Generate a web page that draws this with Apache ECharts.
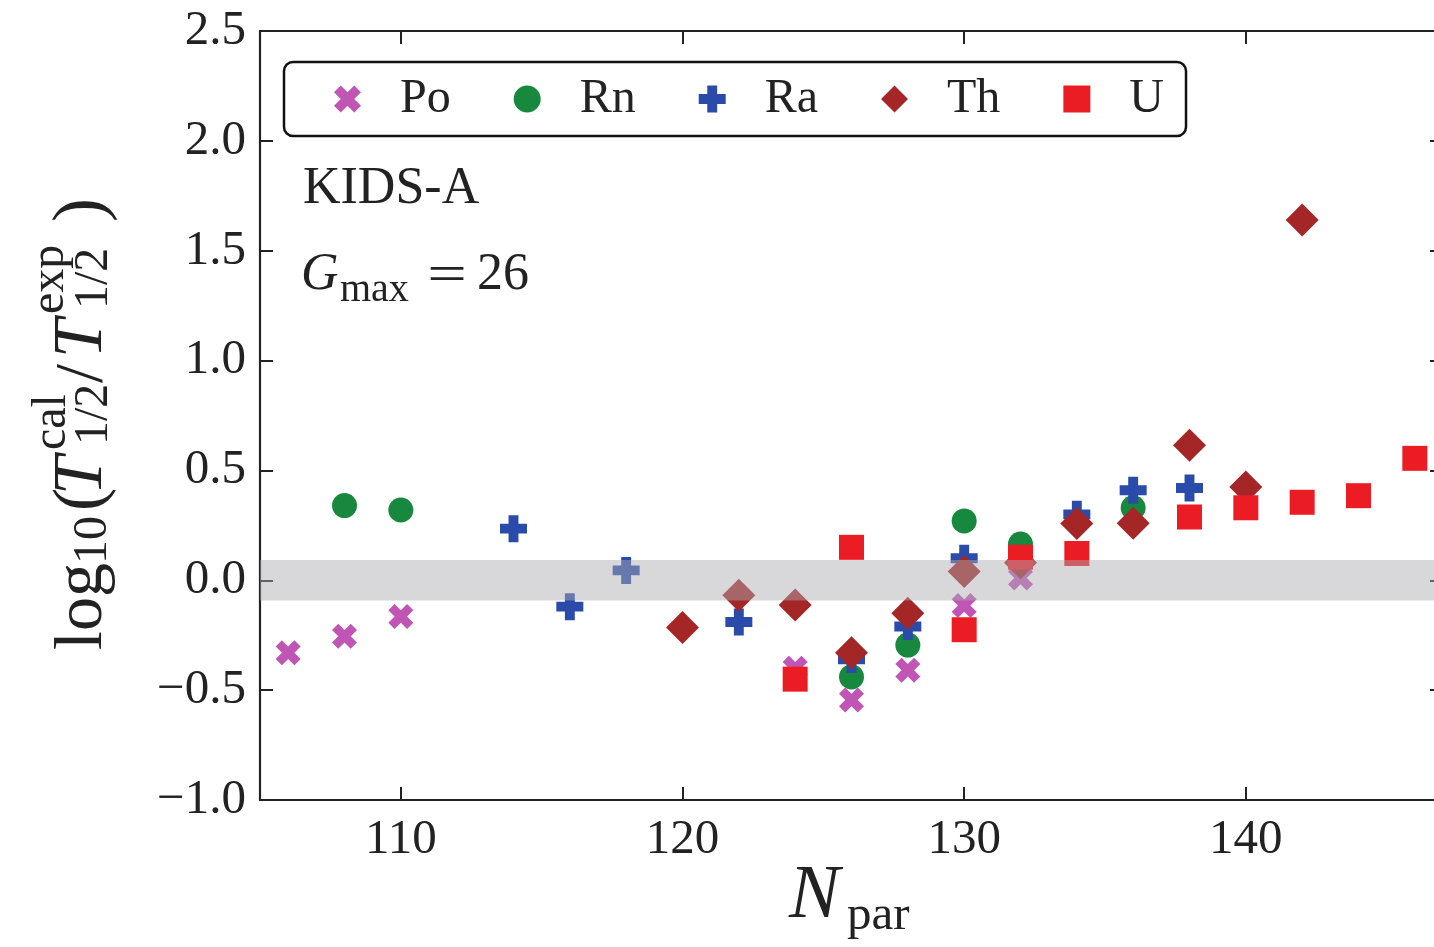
<!DOCTYPE html>
<html>
<head>
<meta charset="utf-8">
<script src="https://cdn.jsdelivr.net/npm/echarts@6/dist/echarts.min.js"></script>
<style>
  html, body { margin: 0; padding: 0; background: #ffffff; overflow: hidden; }
  /* canvas is a little wider than the window so the right frame sits just past the edge */
  #chart { width: 1452px; height: 947px; }
</style>
</head>
<body>
<div id="chart"></div>
<script>
// log10(T_cal / T_exp) versus parent neutron number, one series per element
const elementNames = ['Po', 'Rn', 'Ra', 'Th', 'U'];

const poValues = [[106, -0.33], [108, -0.255], [110, -0.165], [124, -0.40], [126, -0.545], [128, -0.41], [130, -0.115], [132, 0.01]];
const rnValues = [[108, 0.34], [110, 0.32], [126, -0.44], [128, -0.295], [130, 0.27], [132, 0.165], [136, 0.33]];
const raValues = [[114, 0.235], [116, -0.12], [118, 0.045], [122, -0.19], [126, -0.36], [128, -0.21], [130, 0.10], [134, 0.30], [136, 0.41], [138, 0.42]];
const thValues = [[120, -0.215], [122, -0.068], [124, -0.113], [126, -0.33], [128, -0.15], [130, 0.04], [132, 0.08], [134, 0.258], [136, 0.26], [138, 0.615], [140, 0.425], [142, 1.64]];
const uValues = [[124, -0.45], [126, 0.15], [130, -0.225], [132, 0.105], [134, 0.122], [138, 0.288], [140, 0.33], [142, 0.355], [144, 0.385], [146, 0.555]];

const xTickValues = [110, 120, 130, 140];
const xRange = [105, 147];
const yRange = [-1.0, 2.5];
const yStep = 0.5;
const bandLimits = [-0.092, 0.092];

const SERIF = '"Liberation Serif", "DejaVu Serif", serif';
const INK = '#222222';

const elementColors = ['#c055b5', '#17883d', '#2b4baa', '#a52626', '#ec1c24'];
const xSymbol = 'path://M-1,-2L0,-1L1,-2L2,-1L1,0L2,1L1,2L0,1L-1,2L-2,1L-1,0L-2,-1Z';
const plusSymbol = 'path://M-1.1,-3L1.1,-3L1.1,-1.1L3,-1.1L3,1.1L1.1,1.1L1.1,3L-1.1,3L-1.1,1.1L-3,1.1L-3,-1.1L-1.1,-1.1Z';
const diamondSymbol = 'path://M0,-1L1,0L0,1L-1,0Z';
const squareSymbol = 'path://M0,0L1,0L1,1L0,1Z';
const elementSymbols = [xSymbol, 'circle', plusSymbol, diamondSymbol, squareSymbol];
const elementSizes = [25, 25, 27, 33, 25];
const elementData = [poValues, rnValues, raValues, thValues, uValues];

const fmtY = v => (v < 0 ? '\u2212' : '') + Math.abs(v).toFixed(1);

const chart = echarts.init(document.getElementById('chart'), null, { renderer: 'canvas' });

const scatterSeries = elementNames.map((name, i) => ({
  type: 'scatter',
  name: name,
  data: elementData[i],
  symbol: elementSymbols[i],
  symbolSize: elementSizes[i],
  itemStyle: { color: elementColors[i], opacity: 1 },
  z: 2
}));

// translucent band around zero, drawn above the markers
const bandSeries = {
  type: 'custom',
  name: 'band',
  z: 10,
  silent: true,
  data: [[126, bandLimits[0], bandLimits[1]]],
  encode: { x: 0, y: [1, 2] },
  renderItem(params, api) {
    const cs = params.coordSys;
    const yTop = api.coord([api.value(0), api.value(2)])[1];
    const yBot = api.coord([api.value(0), api.value(1)])[1];
    return {
      type: 'rect',
      shape: { x: cs.x, y: yTop, width: cs.width, height: yBot - yTop },
      style: { fill: 'rgba(172,172,177,0.47)' }
    };
  }
};

const labelText = (x, y, text, size, extra) => Object.assign({
  type: 'text', x: x, y: y,
  style: {
    text: text, fill: INK,
    font: size + 'px ' + SERIF,
    verticalAlign: 'middle', align: 'left'
  }
}, extra || {});
const italicText = (x, y, text, size) => ({
  type: 'text', x: x, y: y,
  style: { text: text, fill: INK, font: 'italic ' + size + 'px ' + SERIF, verticalAlign: 'middle', align: 'left' }
});

const option = {
  animation: false,
  backgroundColor: '#ffffff',
  grid: { left: 260, top: 31, right: 9, height: 769, containLabel: false },
  xAxis: [{
    type: 'value', min: xRange[0], max: xRange[1], position: 'bottom',
    axisLine: { show: true, onZero: false, lineStyle: { color: INK, width: 2.2 } },
    axisTick: { show: true, inside: true, length: 13, customValues: xTickValues, lineStyle: { color: INK, width: 2 } },
    axisLabel: { show: true, customValues: xTickValues, margin: 16, color: INK, fontFamily: SERIF, fontSize: 49 },
    splitLine: { show: false }
  }, {
    type: 'value', min: xRange[0], max: xRange[1], position: 'top',
    axisLine: { show: true, onZero: false, lineStyle: { color: INK, width: 2.2 } },
    axisTick: { show: true, inside: true, length: 13, customValues: xTickValues, lineStyle: { color: INK, width: 2 } },
    axisLabel: { show: false },
    splitLine: { show: false }
  }],
  yAxis: [{
    type: 'value', min: yRange[0], max: yRange[1], interval: yStep, position: 'left',
    axisLine: { show: true, onZero: false, lineStyle: { color: INK, width: 2.2 } },
    axisTick: { show: true, inside: true, length: 13, lineStyle: { color: INK, width: 2 } },
    axisLabel: { show: true, margin: 14, color: INK, fontFamily: SERIF, fontSize: 49, formatter: fmtY },
    splitLine: { show: false }
  }, {
    type: 'value', min: yRange[0], max: yRange[1], interval: yStep, position: 'right',
    axisLine: { show: true, onZero: false, lineStyle: { color: INK, width: 2.2 } },
    axisTick: { show: true, inside: true, length: 13, lineStyle: { color: INK, width: 2 } },
    axisLabel: { show: false },
    splitLine: { show: false }
  }],
  legend: {
    data: elementNames,
    left: 284, top: 62,
    orient: 'horizontal',
    selectedMode: false,
    itemWidth: 27, itemHeight: 27, itemGap: 63,
    padding: [13, 22, 13, 50],
    borderColor: '#111111', borderWidth: 2.5, borderRadius: 9,
    backgroundColor: '#ffffff',
    textStyle: { fontFamily: SERIF, fontSize: 48, color: INK, padding: [0, 0, 0, 34] }
  },
  graphic: [
    labelText(303, 189, 'KIDS-A', 52),
    italicText(301, 275, 'G', 52),
    labelText(340, 290, 'max', 40),
    labelText(447, 277, '=', 52, { scaleX: 1.35, originX: 0, originY: 0, style: { text: '=', fill: INK, font: '52px ' + SERIF, verticalAlign: 'middle', align: 'center' } }),
    labelText(477, 275, '26', 52),
    // x axis title N_par
    italicText(789, 897, 'N', 76),
    labelText(847, 916, 'par', 49),
    // y axis title log10(T^cal_1/2 / T^exp_1/2), rotated to read upward
    {
      type: 'group', x: 83, y: 650, rotation: Math.PI / 2,
      children: [
        labelText(0, 0, 'log', 68),
        labelText(86, 10, '10', 48),
        labelText(139, 0, '(', 70),
        italicText(155, 0, 'T', 70),
        labelText(200, -31, 'cal', 48),
        labelText(205, 11, '1/2', 48),
        labelText(267, 0, '/', 68),
        italicText(292, 0, 'T', 70),
        labelText(336, -33, 'exp', 48),
        labelText(341, 11, '1/2', 48),
        labelText(428, 0, ')', 72)
      ]
    }
  ],
  series: scatterSeries.concat([bandSeries])
};

chart.setOption(option);
</script>
</body>
</html>
